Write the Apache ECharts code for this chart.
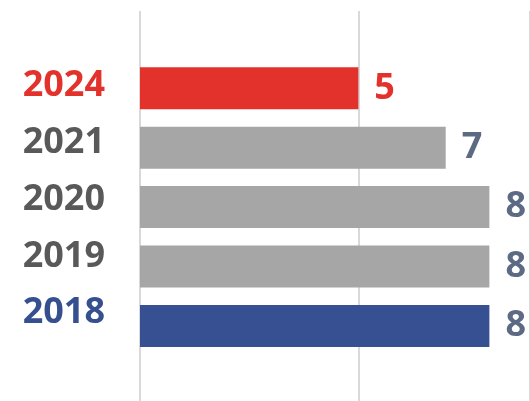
<!DOCTYPE html>
<html>
<head>
<meta charset="utf-8">
<script src="https://cdn.jsdelivr.net/npm/echarts@6/dist/echarts.min.js"></script>
<style>
  html, body { margin: 0; padding: 0; background: #fff; }
  #chart { width: 530px; height: 401px; }
</style>
</head>
<body>
<div id="chart"></div>
<script>
// data
const years = ['2024', '2021', '2020', '2019', '2018'];
const counts = [5, 7, 8, 8, 8];

// styles per row
const barColors = ['#E3322B', '#A6A6A6', '#A6A6A6', '#A6A6A6', '#375091'];
const yearColors = ['#E3322B', '#595959', '#595959', '#595959', '#36508F'];
const valueColors = ['#E3322B', '#5D6A84', '#5D6A84', '#5D6A84', '#5D6A84'];

const FONT = 'Open Sans';
const X_MAX = 8.93; // plot runs off the right edge of the picture
const chart = echarts.init(document.getElementById('chart'));

const option = {
  animation: false,
  grid: [
    // vertical split lines, full height
    { left: 140, right: 0, top: 11, bottom: 0 },
    // bars
    { left: 140, right: 0, top: 58.6, height: 297 },
    // year labels
    { left: 140, right: 0, top: 57.6, height: 284 }
  ],
  xAxis: [
    {
      gridIndex: 0, type: 'value', min: 0, max: X_MAX, interval: 5,
      axisLabel: { show: false }, axisLine: { show: false }, axisTick: { show: false },
      splitLine: { lineStyle: { color: '#D9D9D9', width: 2 } }
    },
    { gridIndex: 1, type: 'value', min: 0, max: X_MAX, show: false },
    { gridIndex: 2, type: 'value', min: 0, max: X_MAX, show: false }
  ],
  yAxis: [
    { gridIndex: 0, type: 'category', data: years, show: false },
    { gridIndex: 1, type: 'category', data: years, inverse: true, show: false },
    {
      gridIndex: 2, type: 'category', data: years, inverse: true,
      axisLine: { show: false }, axisTick: { show: false }, splitLine: { show: false },
      axisLabel: {
        margin: 35,
        fontFamily: FONT, fontWeight: 'bold', fontSize: 36,
        color: (v, i) => yearColors[i]
      }
    }
  ],
  series: [
    {
      type: 'bar',
      xAxisIndex: 1, yAxisIndex: 1,
      barWidth: 42,
      data: counts.map((v, i) => ({
        value: v,
        itemStyle: { color: barColors[i] },
        label: { color: valueColors[i] }
      })),
      label: {
        show: true, position: 'right', distance: 16,
        fontFamily: FONT, fontWeight: 'bold', fontSize: 36
      }
    }
  ]
};

chart.setOption(option);
</script>
</body>
</html>
